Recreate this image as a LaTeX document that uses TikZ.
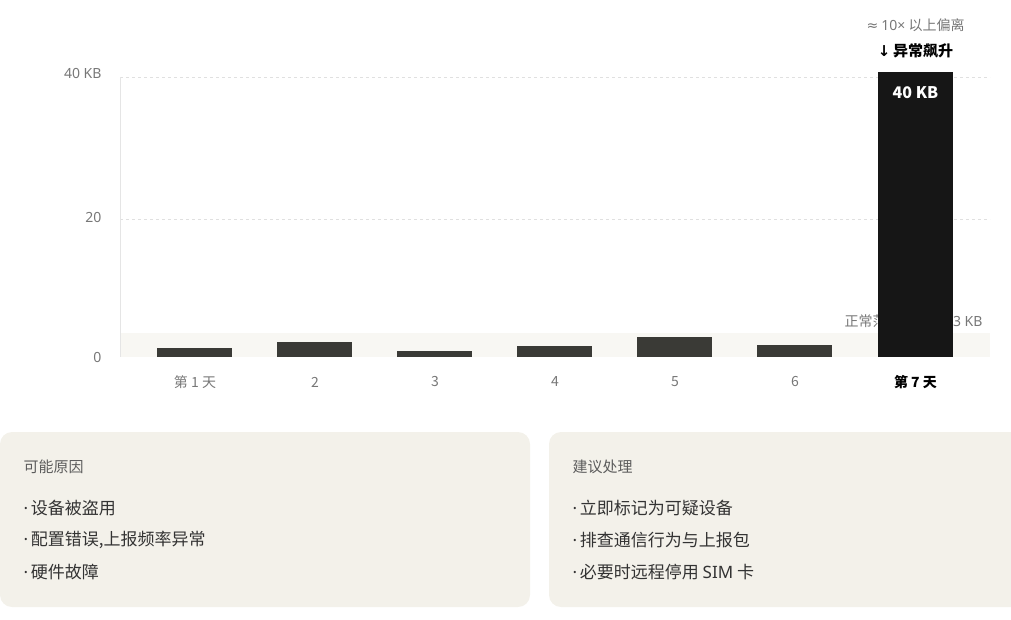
\documentclass[tikz,border=0pt]{standalone}
\usepackage{fontspec}
\setmainfont{Noto Sans CJK SC}
\newfontfamily\latin{Noto Sans}
\newfontfamily\sym{DejaVu Sans}
\usetikzlibrary{positioning}
\definecolor{bargray}{HTML}{3A3A36}
\definecolor{barblack}{HTML}{161616}
\definecolor{panelbg}{HTML}{F3F1EA}
\definecolor{bandbg}{HTML}{F8F7F3}
\definecolor{txtgray}{HTML}{777777}
\definecolor{txtdark}{HTML}{333333}
\tikzset{
	axislbl/.style={font=\fontsize{14}{16}\selectfont, text=txtgray},
	daylbl/.style={font=\fontsize{14}{16}\selectfont, text=txtgray, anchor=center},
	bar/.style={fill=bargray, draw=none},
	panel/.style={fill=panelbg, draw=none, rounded corners=12pt},
	ptitle/.style={font=\fontsize{15}{17}\selectfont, text=txtdark!80, anchor=west},
	pitem/.style={font=\fontsize{17}{19}\selectfont, text=txtdark, anchor=west},
}
\newcommand{\dotitem}{{\latin·}\,}
\begin{document}
\begin{tikzpicture}[x=1pt,y=-1pt]
	\useasboundingbox (0,0) rectangle (1011,619);
	\newcommand{\ky}{7} % px per KB
	% normal band and grid
	\fill[bandbg] (120,333) rectangle (990,357);
	\draw[black!12, dash pattern=on 3pt off 3pt] (120,77) -- (990,77);
	\draw[black!12, dash pattern=on 3pt off 3pt] (120,219) -- (990,219);
	\draw[black!10] (120,77) -- (120,357);
	\node[axislbl, anchor=east] (y40) at (105,73) {{\latin 40 KB}};
	\node[axislbl, anchor=east] (y20) at (105,217) {{\latin 20}};
	\node[axislbl, anchor=east] (y0) at (105,357) {{\latin 0}};
	\node[axislbl, anchor=west] (band) at (841,321) {正常范围 {\latin 0 –}};
	\node[axislbl, anchor=east] (bandend) at (986,321) {{\latin 3 KB}};
	% bars
	\foreach \i/\v/\l in {1/1.3/第 1 天,2/2.1/2,3/0.9/3,4/1.6/4,5/2.8/5,6/1.7/6}{
		\fill[bar] ({37+120*\i},357) rectangle ({112+120*\i},{357-\v*\ky});
		\node[daylbl] (d\i) at ({75+120*\i},382) {\l};
	}
	\fill[barblack] (878,357) rectangle (953,72);
	\node[font=\fontsize{16}{18}\selectfont\bfseries, text=white] (v7) at (915.5,93) {40 KB};
	\node[font=\fontsize{14}{16}\selectfont\bfseries, text=black] (d7) at (915.5,382) {第 7 天};
	\node[font=\fontsize{15}{17}\selectfont\bfseries, text=black] (spike) at (915.5,51) {{\sym ↓}\,异常飙升};
	\node[font=\fontsize{14}{16}\selectfont, text=txtgray] (ratio) at (915.5,25) {{\sym ≈} {\latin 10×} 以上偏离};
	% panels
	\fill[panel] (0,432) rectangle (530,607);
	\fill[panel] (549,432) rectangle (1030,607);
	\node[ptitle] (t1) at (20,467) {可能原因};
	\node[pitem] (a1) at (20,508) {\dotitem 设备被盗用};
	\node[pitem] (a2) at (20,540) {\dotitem 配置错误,上报频率异常};
	\node[pitem] (a3) at (20,572) {\dotitem 硬件故障};
	\node[ptitle] (t2) at (569,467) {建议处理};
	\node[pitem] (b1) at (569,508) {\dotitem 立即标记为可疑设备};
	\node[pitem] (b2) at (569,540) {\dotitem 排查通信行为与上报包};
	\node[pitem] (b3) at (569,572) {\dotitem 必要时远程停用 {\latin SIM} 卡};
\end{tikzpicture}
\end{document}
